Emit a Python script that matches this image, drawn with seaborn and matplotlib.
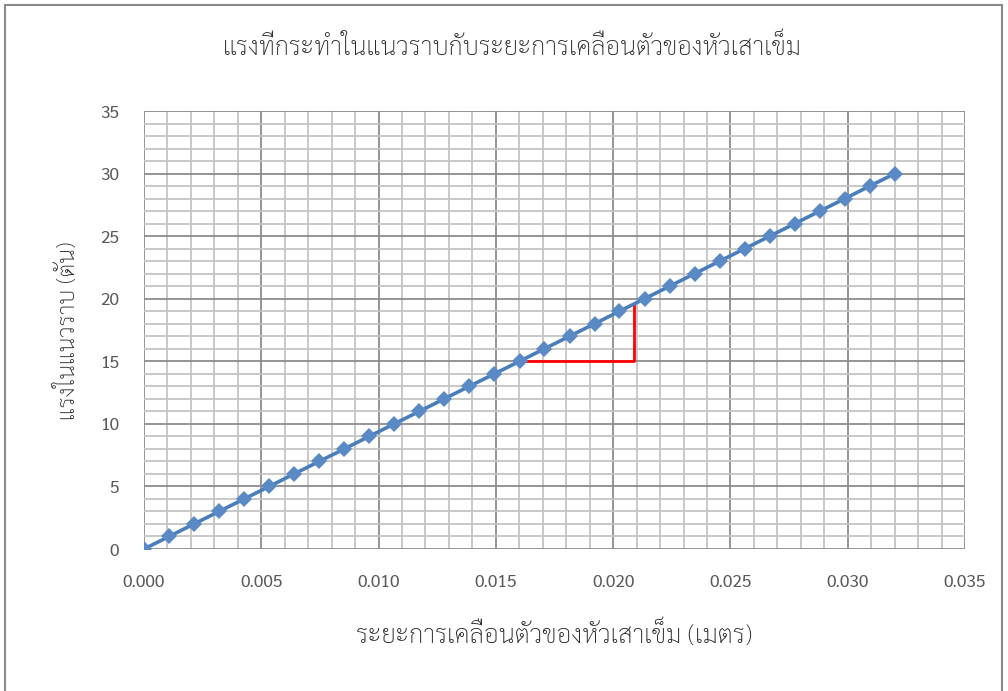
import pandas as pd
import matplotlib
matplotlib.use("Agg")
import matplotlib.pyplot as plt
import seaborn as sns
from matplotlib.ticker import MultipleLocator, FormatStrFormatter
from matplotlib.patches import Rectangle

# displacement of pile head (m) and horizontal force (ton)
displacement = [0.0, 0.00107, 0.00213, 0.0032, 0.00427, 0.00534, 0.0064, 0.00747,
                0.00854, 0.0096, 0.01067, 0.01174, 0.0128, 0.01387, 0.01494, 0.01601,
                0.01707, 0.01814, 0.01921, 0.02027, 0.02134, 0.02241, 0.02347, 0.02454,
                0.02561, 0.02668, 0.02774, 0.02881, 0.02988, 0.03094, 0.03201]
force = list(range(0, 31))

# red slope triangle
slope_x = [0.0159, 0.0209, 0.0209]
slope_y = [15, 15, 19.5]

title = "แรงที่กระทำในแนวราบกับระยะการเคลื่อนตัวของหัวเสาเข็ม"
xlabel = "ระยะการเคลื่อนตัวของหัวเสาเข็ม (เมตร)"
ylabel = "แรงในแนวราบ (ตัน)"

sns.set_theme(style="white")
plt.rcParams["font.family"] = ["Sarabun", "DejaVu Sans"]

df = pd.DataFrame({"x": displacement, "y": force})

fig = plt.figure(figsize=(10.08, 6.91), dpi=100)
ax = fig.add_axes([144 / 1008, 1 - 549 / 691, 821 / 1008, 438 / 691])

ax.xaxis.set_major_locator(MultipleLocator(0.005))
ax.xaxis.set_minor_locator(MultipleLocator(0.001))
ax.yaxis.set_major_locator(MultipleLocator(5))
ax.yaxis.set_minor_locator(MultipleLocator(1))
ax.grid(which="minor", color="#c4c4c4", linewidth=1.3)
ax.grid(which="major", color="#8c8c8c", linewidth=1.3)
ax.set_axisbelow(True)

sns.lineplot(data=df, x="x", y="y", ax=ax, color="#4a7ebb", linewidth=2.6,
             marker="D", markersize=8, markeredgewidth=0, markerfacecolor="#5a8ac6")
ax.plot(slope_x, slope_y, color="#ff0000", linewidth=2, zorder=1.5)

ax.set_xlim(0, 0.035)
ax.set_ylim(0, 35)
ax.xaxis.set_major_formatter(FormatStrFormatter("%.3f"))
ax.tick_params(which="both", length=0, labelsize=12.5, labelcolor="#595959", pad=18)
for s in ax.spines.values():
    s.set_visible(False)

ax.set_xlabel(xlabel, fontsize=18.5, color="#262626", fontweight="light")
ax.xaxis.set_label_coords(0.5, -0.196)
ax.xaxis.label.set_va("center")
ax.set_ylabel(ylabel, fontsize=16.8, color="#262626", fontweight="light")
ax.yaxis.set_label_coords(-0.093, 0.498)
ax.yaxis.label.set_va("center")

fig.text(512 / 1008, 1 - 48 / 691, title, fontsize=18.3, color="#262626", ha="center", va="center",
         fontweight="light")

# chart border (bottom edge is outside the picture)
fig.patches.append(Rectangle((5 / 1008, -0.1), 997 / 1008, 1.1 - 5 / 691, transform=fig.transFigure,
                             fill=False, edgecolor="#8a8a8a", linewidth=1.5))

fig.savefig("out.png", dpi=100, facecolor="white")
